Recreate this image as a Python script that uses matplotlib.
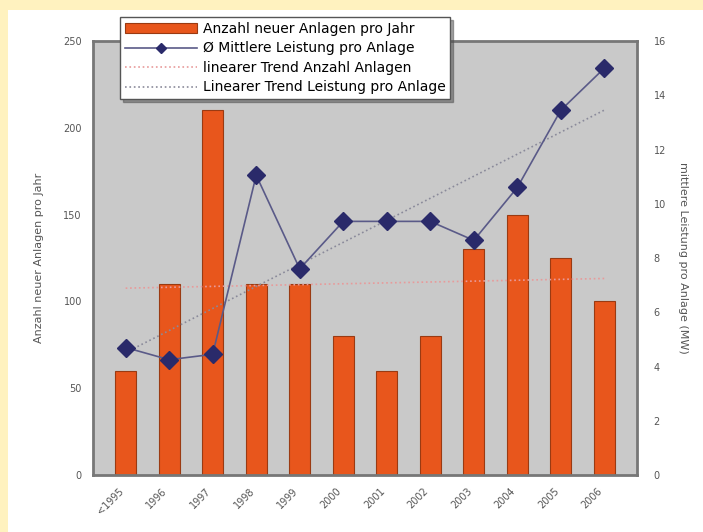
import matplotlib
matplotlib.use("Agg")
import matplotlib.pyplot as plt
import numpy as np

years = ["<1995", "1996", "1997", "1998", "1999", "2000", "2001", "2002", "2003", "2004", "2005", "2006"]
anzahl = [60, 110, 210, 110, 110, 80, 60, 80, 130, 150, 125, 100]
leistung = [4.7, 4.25, 4.45, 11.05, 7.6, 9.35, 9.35, 9.35, 8.65, 10.6, 13.45, 15.0]

fig = plt.figure(figsize=(7.03, 5.32), dpi=100)
fig.patch.set_facecolor("#FFF2BF")
bg = fig.add_axes([8/703, 0, 1 - 8/703, 1 - 10/532], zorder=-10)
bg.set_facecolor("white")
bg.set_xticks([]); bg.set_yticks([])
for s in bg.spines.values():
    s.set_visible(False)

ax = fig.add_axes([93/703, 1 - 475/532, (637-93)/703, (475-41)/532])
ax.set_facecolor("#C9C9C9")
x = np.arange(len(years))
bars = ax.bar(x, anzahl, width=0.48, color="#E8561C", edgecolor="#9A3A12", linewidth=0.8,
              label="Anzahl neuer Anlagen pro Jahr", zorder=2)
ax.set_ylim(0, 250)
ax.set_xlim(-0.75, len(years) - 0.25)
ax.set_yticks(range(0, 251, 50))
ax.set_xticks(x)
ax.set_xticklabels(years, rotation=45, ha="right", fontsize=7, color="#444444")
ax.tick_params(axis="both", length=0, labelsize=7, labelcolor="#555555", pad=8)
ax.set_ylabel("Anzahl neuer Anlagen pro Jahr", fontsize=8, color="#555555", labelpad=14)
for s in ax.spines.values():
    s.set_color("#777777")
    s.set_linewidth(2)

c = np.polyfit(x, anzahl, 1)
t1, = ax.plot(x, np.polyval(c, x), ls=":", color="#E89A9A", lw=1.2, zorder=3,
              label="linearer Trend Anzahl Anlagen")

ax2 = ax.twinx()
ax2.set_ylim(0, 16)
ax2.set_yticks(range(0, 17, 2))
ax2.tick_params(axis="y", length=0, labelsize=7, labelcolor="#555555", pad=12)
ln, = ax2.plot(x, leistung, color="#5A5A88", lw=1.2, marker="D", markersize=9,
               markerfacecolor="#2A2A6A", markeredgecolor="#2A2A6A", zorder=4,
               label="Ø Mittlere Leistung pro Anlage")
c2 = np.polyfit(x, leistung, 1)
t2, = ax2.plot(x, np.polyval(c2, x), ls=":", color="#8A8A9A", lw=1.2, zorder=3,
               label="Linearer Trend Leistung pro Anlage")
ax2.set_ylabel("mittlere Leistung pro Anlage (MW)", fontsize=8, color="#555555",
               rotation=270, labelpad=16)
for s in ax2.spines.values():
    s.set_visible(False)

leg = fig.legend(handles=[bars, ln, t1, t2], loc="upper left",
                 bbox_to_anchor=(113/703, 1 - 10/532), fontsize=10, frameon=True,
                 fancybox=False, shadow=True, handlelength=5.2, borderpad=0.35,
                 labelspacing=0.4, handletextpad=0.4, markerscale=0.6)
leg.get_frame().set_edgecolor("#555555")
leg.get_frame().set_facecolor("white")
leg.set_zorder(10)

fig.savefig("out.png", dpi=100, facecolor=fig.get_facecolor())
